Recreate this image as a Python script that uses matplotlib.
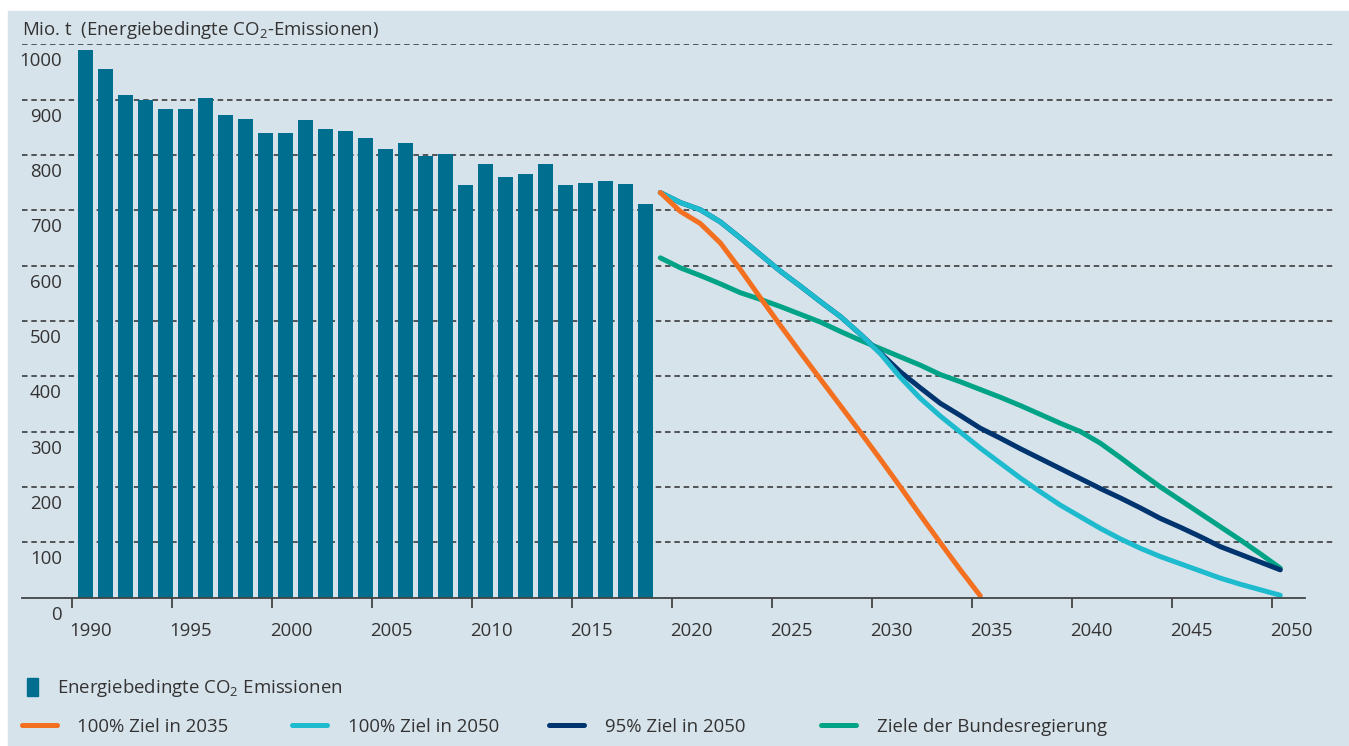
import matplotlib.pyplot as plt
from matplotlib.patches import Rectangle, Patch
from matplotlib.lines import Line2D
from matplotlib.transforms import ScaledTranslation
import numpy as np

# ---- data ----
hist_years = list(range(1990, 2019))
emissions = [990, 955, 908, 899, 883, 883, 903, 872, 865, 840,
             840, 863, 847, 843, 831, 811, 822, 798, 801, 745,
             783, 760, 765, 783, 745, 749, 753, 747, 711]

years_2035 = list(range(2019, 2036))
ziel_2035 = [732, 698, 676, 641, 593, 542, 492, 443, 395, 347,
             299, 250, 200, 149, 99, 50, 3]

years_2050 = list(range(2019, 2051))
ziel_100_2050 = [732, 714, 701, 679, 650, 620, 590, 563, 535, 508,
                 476, 441, 398, 360, 328, 299, 270, 243, 216, 191,
                 167, 146, 125, 106, 89, 74, 61, 48, 35, 24, 14, 4]
ziel_95_2050 = [732, 714, 701, 679, 650, 620, 590, 563, 535, 508,
                476, 442, 408, 379, 351, 329, 306, 288, 269, 251,
                233, 215, 197, 180, 162, 143, 127, 110, 92, 78, 64, 50]
ziele_bund = [614, 596, 582, 567, 551, 539, 526, 512, 498, 481,
              465, 450, 435, 420, 403, 390, 376, 362, 347, 331,
              315, 300, 279, 253, 226, 200, 176, 152, 128, 104, 79, 53]

xticks = list(range(1990, 2051, 5))
yticks = list(range(0, 1001, 100))

legend_bar = "Energiebedingte CO$_\\mathregular{2}$ Emissionen"
legend_lines = ["100% Ziel in 2035", "100% Ziel in 2050",
                "95% Ziel in 2050", "Ziele der Bundesregierung"]

# ---- style ----
BG = '#D7E3EB'
BAR = '#006E8F'
ORANGE = '#F37021'
LIGHT = '#1EBBCF'
NAVY = '#00346E'
GREEN = '#00A386'
TXT = '#333333'
FS = 13.4

plt.rcParams['font.family'] = ['Open Sans', 'DejaVu Sans']
plt.rcParams['mathtext.fontset'] = 'custom'
plt.rcParams['mathtext.rm'] = 'Open Sans'
plt.rcParams['font.size'] = FS

W, H = 1349, 746
fig = plt.figure(figsize=(W / 100, H / 100), dpi=100)
fig.patch.set_facecolor('white')
fig.patches.append(Rectangle((8 / W, 0), 1 - 8 / W, 1 - 11 / H,
                             transform=fig.transFigure, color=BG, zorder=-10))

px = lambda v: v / 100.0  # pixels -> inches

ax = fig.add_axes([22 / W, 1 - 597.5 / H, (1335 - 22) / W, (597.5 - 44.3) / H])
ax.set_facecolor('none')

# 20 px per year, 1990 tick at x=71.7
x0 = 1990 - (71.7 - 22) / 20
x1 = 1990 + (1335 - 71.7) / 20
ax.set_xlim(x0, x1)
ax.set_ylim(0, 1000)

bar_off = 0.68
line_off = 0.43
ax.bar(np.array(hist_years) + bar_off, emissions, width=0.75, color=BAR, zorder=3)

lw = 3.6
ax.plot(np.array(years_2050) + line_off, ziele_bund, color=GREEN, lw=lw,
        solid_capstyle='round', solid_joinstyle='round', zorder=4)
ax.plot(np.array(years_2050) + line_off, ziel_95_2050, color=NAVY, lw=lw,
        solid_capstyle='round', solid_joinstyle='round', zorder=5)
ax.plot(np.array(years_2050) + line_off, ziel_100_2050, color=LIGHT, lw=lw,
        solid_capstyle='round', solid_joinstyle='round', zorder=6)
ax.plot(np.array(years_2035) + line_off, ziel_2035, color=ORANGE, lw=lw,
        solid_capstyle='round', solid_joinstyle='round', zorder=7)

# grid
ax.set_yticks(yticks)
ax.yaxis.grid(True, color='#2E2E2E', lw=1.1, linestyle=(0, (3.6, 2.5)))
ax.yaxis.get_gridlines()[0].set_visible(False)
ax.set_axisbelow(True)

for s in ['left', 'right', 'top']:
    ax.spines[s].set_visible(False)
ax.spines['bottom'].set_color('#444444')
ax.spines['bottom'].set_linewidth(1.3)
ax.spines['bottom'].set_bounds(x0, 1990 + (1305 - 71.7) / 20)
ax.spines['bottom'].set_zorder(8)

ax.set_xticks(xticks)
ax.set_xticklabels([str(t) for t in xticks])
ax.tick_params(axis='x', length=7, width=1.3, color='#444444', pad=11,
               labelsize=FS, labelcolor=TXT)
for lab in ax.get_xticklabels():
    lab.set_horizontalalignment('left')
    lab.set_transform(lab.get_transform() + ScaledTranslation(px(-2), 0, fig.dpi_scale_trans))

ax.set_yticklabels([str(t) for t in yticks])
ax.tick_params(axis='y', length=0, pad=0, labelsize=FS, labelcolor=TXT)
for lab in ax.get_yticklabels():
    lab.set_transform(lab.get_transform() + ScaledTranslation(px(40), px(-15), fig.dpi_scale_trans))

fig.text(22 / W, 1 - 30 / H, "Mio. t  (Energiebedingte CO$_\\mathregular{2}$-Emissionen)",
         ha='left', va='center', color=TXT, fontsize=FS)

# legends
leg_kw = dict(frameon=False, borderpad=0, borderaxespad=0, fontsize=FS,
              labelcolor=TXT, loc='center left')
fig.legend([Patch(color=BAR)], [legend_bar], handlelength=0.6, handleheight=1.1,
           handletextpad=1.0, bbox_to_anchor=(27 / W, 1 - 688 / H), **leg_kw)

line_colors = [ORANGE, LIGHT, NAVY, GREEN]
leg_x = [21.5, 292, 549, 821]
for lab, c, xx in zip(legend_lines, line_colors, leg_x):
    h = Line2D([], [], color=c, lw=3.6, solid_capstyle='round')
    fig.legend([h], [lab], handlelength=1.9, handletextpad=1.1,
               bbox_to_anchor=(xx / W, 1 - 727 / H), **leg_kw)

fig.savefig('out.png', dpi=100, facecolor=fig.get_facecolor())
